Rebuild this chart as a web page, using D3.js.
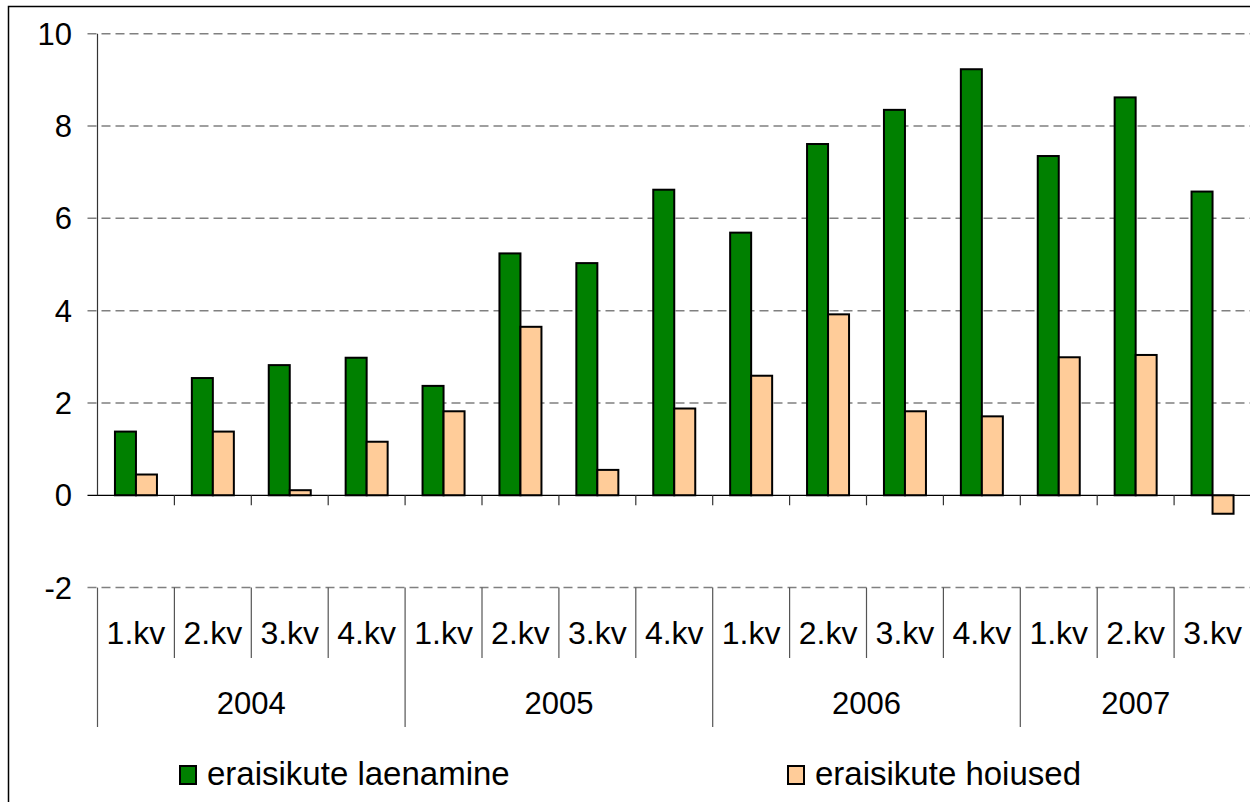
<!DOCTYPE html>
<html>
<head>
<meta charset="utf-8">
<script src="https://d3js.org/d3.v7.min.js"></script>
<style>
  body { margin: 0; background: #fff; }
  text { font-family: Arial, "Liberation Sans", Helvetica, sans-serif; fill: #000; }
</style>
</head>
<body>
<div id="chart"></div>
<script>
var quarters = ["1.kv", "2.kv", "3.kv", "4.kv", "1.kv", "2.kv", "3.kv", "4.kv",
                "1.kv", "2.kv", "3.kv", "4.kv", "1.kv", "2.kv", "3.kv"];
var years = ["2004", "2005", "2006", "2007"];
var yearSpans = [4, 4, 4, 3];
var laenamine = [1.38, 2.54, 2.82, 2.98, 2.37, 5.24, 5.03, 6.62, 5.69, 7.61, 8.35, 9.23, 7.35, 8.62, 6.58];
var hoiused = [0.45, 1.38, 0.11, 1.16, 1.82, 3.65, 0.55, 1.88, 2.59, 3.92, 1.82, 1.71, 2.99, 3.04, -0.40];
var yTicks = [-2, 0, 2, 4, 6, 8, 10];
var seriesNames = ["eraisikute laenamine", "eraisikute hoiused"];
var seriesColors = ["#008000", "#FFCC99"];

var W = 1250, H = 802;
var plotL = 97.5, plotR = 1251, plotT = 33.7, plotB = 587.6;

var svg = d3.select("#chart").append("svg")
    .attr("width", W)
    .attr("height", H);

// outer frame
svg.append("rect")
    .attr("x", 8.5).attr("y", 6.5)
    .attr("width", W).attr("height", H)
    .attr("fill", "none")
    .attr("stroke", "#000")
    .attr("stroke-width", 1.5);

var idx = d3.range(quarters.length);
var x = d3.scaleBand().domain(idx).range([plotL, plotR]).padding(0);
var y = d3.scaleLinear().domain([-2, 10]).range([plotB, plotT]);
var bw = 21;

// gridlines (dashed), except zero
svg.selectAll(".grid")
    .data(yTicks.filter(d => d !== 0))
    .enter().append("line")
    .attr("x1", plotL - 10).attr("x2", plotR)
    .attr("y1", d => y(d)).attr("y2", d => y(d))
    .attr("stroke", "#808080")
    .attr("stroke-width", 1.5)
    .attr("stroke-dasharray", "9,5");

// y tick labels
svg.selectAll(".ylab")
    .data(yTicks)
    .enter().append("text")
    .attr("x", 72)
    .attr("y", d => y(d))
    .attr("dy", "0.36em")
    .attr("text-anchor", "end")
    .style("font-size", "31px")
    .text(d => d);

// bars
svg.selectAll(".bar1")
    .data(laenamine)
    .enter().append("rect")
    .attr("x", (d, i) => x(i) + x.bandwidth() / 2 - bw)
    .attr("y", d => y(Math.max(0, d)))
    .attr("width", bw)
    .attr("height", d => Math.abs(y(d) - y(0)))
    .attr("fill", seriesColors[0])
    .attr("stroke", "#000")
    .attr("stroke-width", 2);

svg.selectAll(".bar2")
    .data(hoiused)
    .enter().append("rect")
    .attr("x", (d, i) => x(i) + x.bandwidth() / 2)
    .attr("y", d => y(Math.max(0, d)))
    .attr("width", bw)
    .attr("height", d => Math.abs(y(d) - y(0)))
    .attr("fill", seriesColors[1])
    .attr("stroke", "#000")
    .attr("stroke-width", 2);

// zero line + small ticks
svg.append("line")
    .attr("x1", plotL - 10).attr("x2", plotR)
    .attr("y1", y(0)).attr("y2", y(0))
    .attr("stroke", "#000")
    .attr("stroke-width", 1.2);

svg.selectAll(".xtick")
    .data(d3.range(1, quarters.length))
    .enter().append("line")
    .attr("x1", d => x(d)).attr("x2", d => x(d))
    .attr("y1", y(0)).attr("y2", y(0) + 10)
    .attr("stroke", "#333")
    .attr("stroke-width", 1.2);

// y axis line
svg.append("line")
    .attr("x1", plotL).attr("x2", plotL)
    .attr("y1", plotT).attr("y2", y(0))
    .attr("stroke", "#333")
    .attr("stroke-width", 1.2);

// category labels: quarters + years
var yearStart = [0];
yearSpans.forEach((s, i) => yearStart.push(yearStart[i] + s));

svg.selectAll(".qsep")
    .data(d3.range(0, quarters.length + 1))
    .enter().append("line")
    .attr("x1", d => d < quarters.length ? x(d) : plotR)
    .attr("x2", d => d < quarters.length ? x(d) : plotR)
    .attr("y1", plotB)
    .attr("y2", d => yearStart.indexOf(d) >= 0 ? 727 : 658)
    .attr("stroke", "#555")
    .attr("stroke-width", 1.2);

svg.selectAll(".qlab")
    .data(quarters)
    .enter().append("text")
    .attr("x", (d, i) => x(i) + x.bandwidth() / 2)
    .attr("y", 644)
    .attr("text-anchor", "middle")
    .style("font-size", "32px")
    .text(d => d);

svg.selectAll(".yearlab")
    .data(years)
    .enter().append("text")
    .attr("x", (d, i) => {
        var a = x(yearStart[i]);
        var b = yearStart[i + 1] < quarters.length ? x(yearStart[i + 1]) : plotR;
        return (a + b) / 2;
    })
    .attr("y", 714)
    .attr("text-anchor", "middle")
    .style("font-size", "31px")
    .text(d => d);

// legend
var legendX = [180, 788];
var lg = svg.selectAll(".legend")
    .data(seriesNames)
    .enter().append("g")
    .attr("transform", (d, i) => "translate(" + legendX[i] + ",766)");

lg.append("rect")
    .attr("width", 16).attr("height", 18)
    .attr("fill", (d, i) => seriesColors[i])
    .attr("stroke", "#000")
    .attr("stroke-width", 2);

lg.append("text")
    .attr("x", 27)
    .attr("y", 19)
    .style("font-size", "33px")
    .text(d => d);
</script>
</body>
</html>
